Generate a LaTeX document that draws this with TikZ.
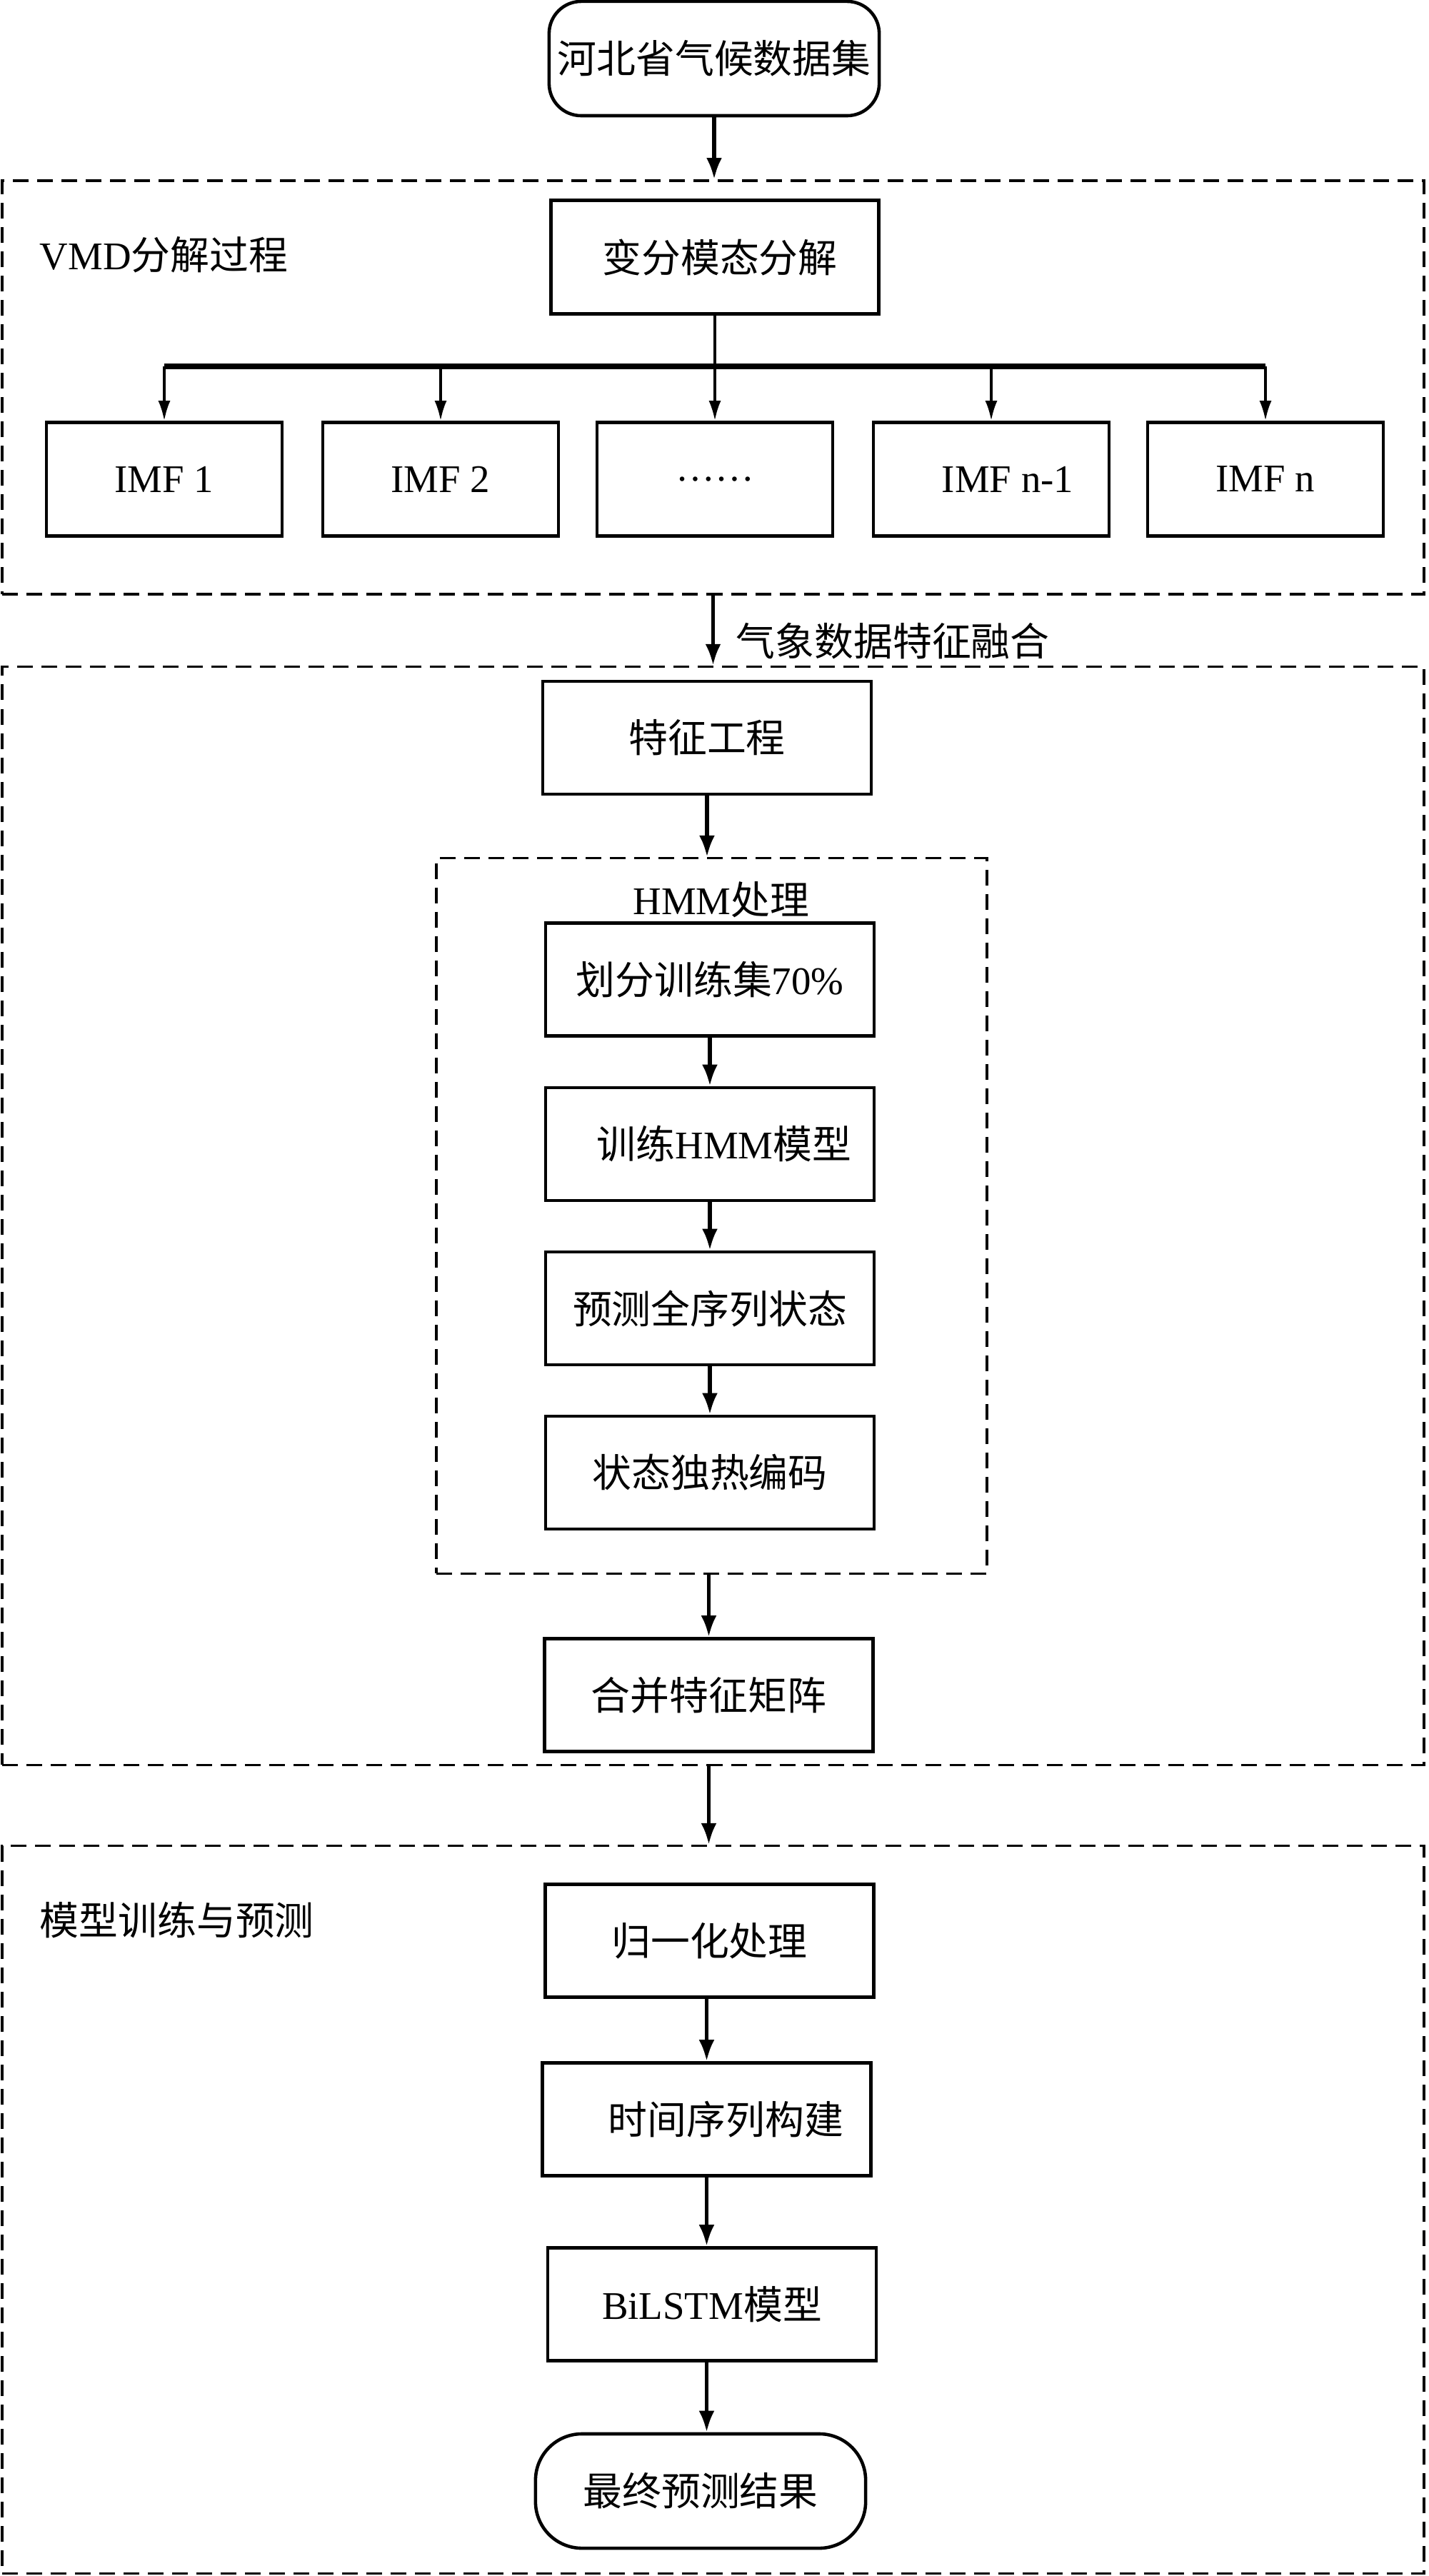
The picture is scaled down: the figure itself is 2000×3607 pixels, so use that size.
\documentclass[tikz,border=0pt]{standalone}
\usepackage{fontspec}
\setmainfont{Liberation Serif}
\newfontfamily\cjk{Noto Sans CJK SC}
\newcommand\zh[1]{{\cjk #1}}
\usetikzlibrary{arrows.meta,calc}
\begin{document}
\begin{tikzpicture}[x=0.01cm,y=-0.01cm,
  txt/.style={font=\fontsize{15.6pt}{18pt}\selectfont},
  procbox/.style={draw,line width=1.3pt,rectangle,minimum width=4.6cm,minimum height=1.58cm,inner sep=0pt,txt},
  imfbox/.style={draw,line width=1.3pt,rectangle,minimum width=3.3cm,minimum height=1.59cm,inner sep=0pt,txt},
  termbox/.style={draw,line width=1.3pt,rectangle,rounded corners=0.45cm,minimum width=4.62cm,minimum height=1.6cm,inner sep=0pt,txt},
  groupbox/.style={draw,line width=1pt,dash pattern=on 0.22cm off 0.12cm,rectangle,inner sep=0pt},
  arr/.style={line width=1.5pt,-{Latex[length=0.3cm,width=0.22cm]}},
  arrthin/.style={line width=1pt,-{Latex[length=0.28cm,width=0.17cm]}},
  busline/.style={line width=2pt},
  stemline/.style={line width=1.3pt}
]
\useasboundingbox (0,0) rectangle (2000,3607);

% top
\node[termbox] (top) at (1000,82) {\zh{河北省气候数据集}};

% VMD group
\node[groupbox,minimum width=19.9cm,minimum height=5.79cm] (vmdg) at (998.5,542.5) {};
\node[txt,anchor=west,inner sep=0pt] (vmdlab) at (55,357) {VMD\zh{分解过程}};
\node[procbox,minimum width=4.59cm,minimum height=1.59cm] (vmd) at (1001,360) {\hspace*{0.14cm}\zh{变分模态分解}};
\node[imfbox] (imf1) at (230,671) {IMF 1};
\node[imfbox] (imf2) at (617,671) {IMF 2};
\node[imfbox] (imf3) at (1001,671) {……};
\node[imfbox] (imf4) at (1388,671) {\hspace*{0.46cm}IMF n-1};
\node[imfbox] (imf5) at (1772,671) {IMF n};
\coordinate (br) at (1001,513);
\draw[stemline] (vmd.south) -- (vmd.south |- br);
\draw[busline] (imf1.north |- br) -- (imf5.north |- br);
\foreach \i in {1,...,5}{\draw[arrthin] (imf\i.north |- br) -- (imf\i.north);}
\draw[arr] (top.south) -- (top.south |- vmdg.north);

% fusion group
\node[groupbox,minimum width=19.9cm,minimum height=15.37cm] (fus) at (998.5,1702.5) {};
\node[txt,anchor=west,inner sep=0pt] (fuslab) at (1030,898) {\zh{气象数据特征融合}};
\draw[arr] (vmdg.south) -- (vmdg.south |- fus.north);
\node[procbox] (feat) at (990,1033) {\zh{特征工程}};
\node[groupbox,minimum width=7.71cm,minimum height=10.01cm] (hmmg) at (996.5,1702.5) {};
\node[txt,inner sep=0pt] (hmmlab) at (1010,1260) {HMM\zh{处理}};
\draw[arr] (feat.south) -- (feat.south |- hmmg.north);
\node[procbox] (s1) at (994,1371.5) {\zh{划分训练集}70\%};
\node[procbox] (s2) at (994,1602) {\hspace*{0.4cm}\zh{训练}HMM\zh{模型}};
\node[procbox] (s3) at (994,1832) {\zh{预测全序列状态}};
\node[procbox] (s4) at (994,2062) {\zh{状态独热编码}};
\draw[arr] (s1) -- (s2);
\draw[arr] (s2) -- (s3);
\draw[arr] (s3) -- (s4);
\node[procbox] (merge) at (992.5,2373.5) {\zh{合并特征矩阵}};
\draw[arr] (hmmg.south -| merge.north) -- (merge.north);

% model group
\node[groupbox,minimum width=19.9cm,minimum height=10.18cm] (modg) at (998.5,3094) {};
\node[txt,anchor=west,inner sep=0pt] (modlab) at (55,2688) {\zh{模型训练与预测}};
\draw[arr] (fus.south -| merge.south) -- (modg.north -| merge.south);
\node[procbox] (m1) at (993.5,2717.5) {\zh{归一化处理}};
\node[procbox] (m2) at (989.5,2967.5) {\hspace*{0.54cm}\zh{时间序列构建}};
\node[procbox] (m3) at (997,3226.5) {BiLSTM\zh{模型}};
\node[termbox,rounded corners=0.65cm] (m4) at (981,3488) {\zh{最终预测结果}};
\draw[arr] (m1.south -| m2.north) -- (m2.north);
\draw[arr] (m2.south) -- (m2.south |- m3.north);
\draw[arr] (m3.south -| m2.south) -- (m4.north -| m2.south);
\end{tikzpicture}
\end{document}
